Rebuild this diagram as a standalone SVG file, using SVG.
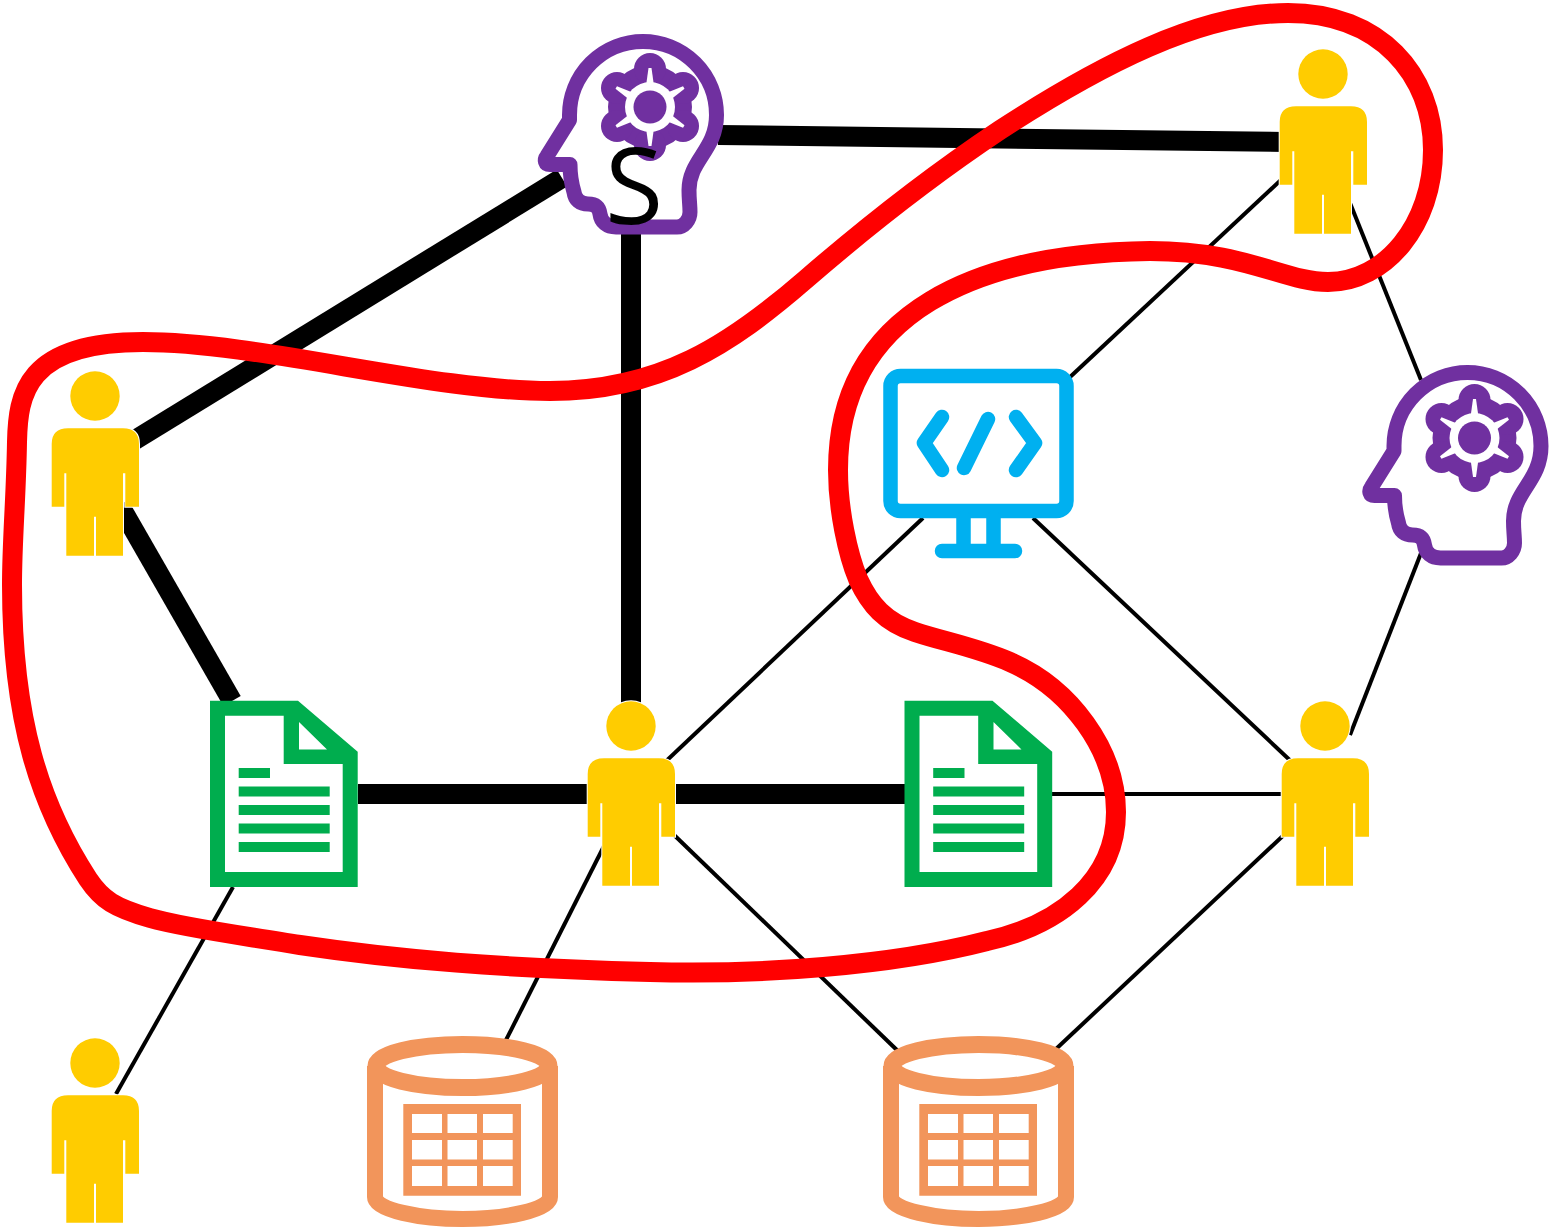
<svg xmlns="http://www.w3.org/2000/svg" width="1550" height="1229" viewBox="0 0 1550 1229">
<style>
.thick{stroke:#000;stroke-width:20;fill:none}
.thin{stroke:#000;stroke-width:4;fill:none}
.person{fill:#ffcc00;stroke:#fff;stroke-width:2;paint-order:stroke}
.doc{fill:#00ad4e}
.head{fill:none;stroke:#7030a0;stroke-width:15;stroke-linejoin:round}
.purple{fill:#7030a0}
.mon{fill:none;stroke:#00b0f0;stroke-width:14.5;stroke-linecap:round;stroke-linejoin:round}
.db{fill:none;stroke:#f2955b;stroke-width:16}
.dbtop{fill:none;stroke:#f2955b;stroke-width:17}
.dbf{fill:#f2955b}
.red{fill:none;stroke:#ff0000;stroke-width:20}
.label{font-family:"Open Sans","Liberation Sans",sans-serif;font-size:106px;fill:#000;text-anchor:middle}
</style>
<defs>
<g id="personIcon">
<circle class="person" cx="95" cy="396" r="24.7"/>
<path class="person" d="M51.7,506.7V444Q51.7,428.3 68,428.3H123Q139,428.3 139,444V506.7H125.3V473.3H123V555.7H96V516.7H94V555.7H66.3V473.3H64.3V506.7Z"/>
</g>
<g id="docIcon">
<path class="doc" fill-rule="evenodd" d="M210,700.7H298L357.7,751.7V887H210ZM225,715.7V872H342.7V764H283.7V715.7ZM299,722V749.5H327Z"/>
<path class="doc" d="M238.7,768H270V778H238.7ZM238.7,786.5H329.7V796.5H238.7ZM238.7,805H329.7V815H238.7ZM238.7,823.5H329.7V833.5H238.7ZM238.7,842H329.7V852H238.7Z"/>
</g>
<path id="spike" fill="#fff" d="M648.5,68H651.5L654,86H646Z"/>
<g id="headIcon">
<path class="head" d="M569.5,115A73.5,73.5 0 1 1 716.5,115C716.5,150 689,160 689,190C689,200 690,205 690,212C690,220 684,227 677,227H616C607,227 601,222 600,214C599,207 595,204 588,204C580,204 575,200 574,192C571,182 570,172 570,164.5H550C545,164.5 544,160 547,156L569.5,120Z"/>
<g class="purple">
<circle cx="650" cy="107" r="42"/>
<circle cx="650" cy="69" r="16"/><circle cx="650" cy="145" r="16"/>
<circle cx="617" cy="88" r="16"/><circle cx="683" cy="88" r="16"/>
<circle cx="617" cy="126" r="16"/><circle cx="683" cy="126" r="16"/>
</g>
<circle cx="650" cy="107" r="25" fill="#fff"/>
<use href="#spike"/>
<use href="#spike" transform="rotate(60 650 107)"/>
<use href="#spike" transform="rotate(120 650 107)"/>
<use href="#spike" transform="rotate(180 650 107)"/>
<use href="#spike" transform="rotate(240 650 107)"/>
<use href="#spike" transform="rotate(300 650 107)"/>
<circle class="purple" cx="650" cy="107" r="16.5"/>
</g>
<g id="dbIcon">
<ellipse class="dbtop" cx="462.5" cy="1066" rx="86.5" ry="21.5"/>
<path class="db" d="M375,1066V1197C375,1210 420,1219 462.5,1219C505,1219 550,1210 550,1197V1066"/>
<path class="dbf" fill-rule="evenodd" d="M403.3,1104H521V1195.7H403.3ZM412,1114V1133H442V1114ZM447.5,1114V1133H477V1114ZM483,1114V1133H512.7V1114ZM412,1140V1159.5H442V1140ZM447.5,1140V1159.5H477V1140ZM483,1140V1159.5H512.7V1140ZM412,1166V1186H442V1166ZM447.5,1166V1186H477V1166ZM483,1166V1186H512.7V1166Z"/>
</g>
</defs>
<g id="connectors">
<line class="thick" x1="562" y1="178" x2="130" y2="443"/>
<line class="thick" x1="718" y1="135" x2="1285" y2="142"/>
<line class="thick" x1="631" y1="232" x2="631" y2="710"/>
<line class="thick" x1="119.5" y1="505" x2="232" y2="701"/>
<line class="thick" x1="358" y1="794" x2="592" y2="794"/>
<line class="thick" x1="670" y1="794" x2="905" y2="794"/>
<line class="thin" x1="1283" y1="178" x2="1069" y2="378"/>
<line class="thin" x1="1350" y1="203" x2="1421" y2="380"/>
<line class="thin" x1="1423" y1="548" x2="1350" y2="735"/>
<line class="thin" x1="1033" y1="518" x2="1295" y2="765"/>
<line class="thin" x1="923" y1="518" x2="662" y2="765"/>
<line class="thin" x1="1052" y1="794" x2="1286" y2="794"/>
<line class="thin" x1="1287" y1="832" x2="1056" y2="1049"/>
<line class="thin" x1="672" y1="833" x2="900" y2="1053"/>
<line class="thin" x1="604" y1="846" x2="504" y2="1044"/>
<line class="thin" x1="233" y1="887" x2="116" y2="1094"/>
</g>
<g id="node-person-left"><use href="#personIcon"/></g>
<g id="node-person-bottom"><use href="#personIcon" y="667"/></g>
<g id="node-person-center"><use href="#personIcon" x="536" y="330"/></g>
<g id="node-person-topright"><use href="#personIcon" x="1228" y="-322"/></g>
<g id="node-person-right"><use href="#personIcon" x="1230" y="330"/></g>
<g id="node-doc-1"><use href="#docIcon"/></g>
<g id="node-doc-2"><use href="#docIcon" x="694.5"/></g>
<g id="node-head-s"><use href="#headIcon"/><text class="label" x="634" y="224">S</text></g>
<g id="node-head-2"><use href="#headIcon" x="824.5" y="331"/></g>
<g id="node-monitor">
<rect class="mon" x="890.5" y="376" width="176" height="135" rx="10"/>
<path class="mon" d="M963.5,518V551M993.5,518V551M942,551H1015M942,417L924,443L942,470M988,419L964,468M1016,417L1035,443L1016,470"/>
</g>
<g id="node-db-1"><use href="#dbIcon"/></g>
<g id="node-db-2"><use href="#dbIcon" x="516"/></g>
<path id="red-outline" class="red" d="M1288,13C1380,13 1433,75 1433,150C1433,225 1385,282 1328,282C1285,282 1245,251 1150,251C980,253 838,310 838,470C838,510 848,555 858,579C870,605 885,622 915,632C945,642 975,647 1010,662C1070,688 1116,750 1116,812C1116,880 1060,925 987,941C890,966 760,975 650,972C500,968 400,960 300,945C240,935 185,928 150,918C115,908 102,900 88,879C40,805 12,720 12,585C12,540 16,500 17,442C18,395 25,342 143,342C260,342 430,391 550,391C660,391 730,345 805,280C880,215 940,170 1000,130C1100,65 1200,13 1288,13Z"/>
</svg>
